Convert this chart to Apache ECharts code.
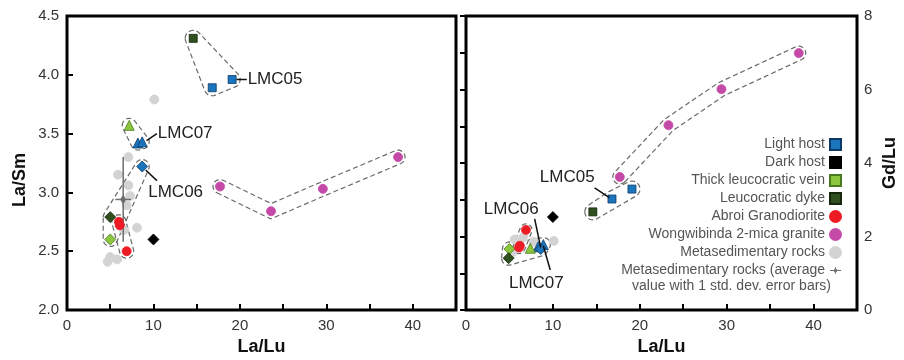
<!DOCTYPE html>
<html>
<head>
<meta charset="utf-8">
<script src="https://cdn.jsdelivr.net/npm/echarts@6/dist/echarts.min.js"></script>
<style>
html, body { margin: 0; padding: 0; background: #fff; }
#chart { width: 904px; height: 360px; }
</style>
</head>
<body>
<div id="chart"></div>
<script>
// left panel: [La/Lu, La/Sm]
const lightHostSqL = [[16.8, 3.89], [19.1, 3.96]]
const lightHostTriL = [[8.2, 3.42], [8.7, 3.43]]
const lightHostDiaL = [[8.7, 3.22]]
const darkHostL = [[10.0, 2.60]]
const veinTriL = [[7.2, 3.57]]
const veinDiaL = [[5.0, 2.60]]
const dykeSqL = [[14.6, 4.31]]
const dykeDiaL = [[5.0, 2.79]]
const abroiL = [[6.0, 2.75], [6.1, 2.72], [6.9, 2.50]]
const wongL = [[17.7, 3.05], [23.6, 2.84], [29.6, 3.03], [38.3, 3.30]]
const metaL = [[10.1, 3.79], [7.1, 3.30], [5.9, 3.15], [7.1, 3.06], [6.9, 2.89], [8.1, 2.70],
  [6.6, 2.68], [5.0, 2.45], [5.8, 2.43], [4.7, 2.41], [7.3, 2.97]]
const metaAvgL = [[6.5, 2.94, 0.9, 0.36]] // x, y, x error, y error

// right panel: [La/Lu, Gd/Lu]
const lightHostSqR = [[16.8, 3.02], [19.1, 3.29]]
const lightHostTriR = [[8.3, 1.72], [8.9, 1.78]]
const lightHostDiaR = [[8.6, 1.66]]
const darkHostR = [[10.0, 2.53]]
const veinTriR = [[7.4, 1.68]]
const veinDiaR = [[5.0, 1.66]]
const dykeSqR = [[14.6, 2.67]]
const dykeDiaR = [[4.9, 1.41]]
const abroiR = [[6.9, 2.18], [6.2, 1.75], [6.1, 1.70]]
const wongR = [[17.7, 3.62], [23.3, 5.03], [29.4, 6.01], [38.3, 6.99]]
const metaR = [[10.1, 1.88], [5.6, 1.92], [6.6, 1.98], [7.8, 1.86], [5.3, 1.55]]

const names = ['Light host', 'Dark host', 'Thick leucocratic vein', 'Leucocratic dyke',
  'Abroi Granodiorite', 'Wongwibinda 2-mica granite', 'Metasedimentary rocks',
  'Metasedimentary rocks (average']
const avgNote = 'value with 1 std. dev. error bars)'

const FONT = 'Liberation Sans'
const col = {
  blue: '#1b75bc', black: '#000', lgreen: '#8cc63f', dgreen: '#2f4f1f',
  red: '#ed1c24', pink: '#c54aa8', grey: '#d3d3d3', avg: '#6d6d6d'
}

// envelope shapes (pixel space)
function hull (p) {
  p = p.slice().sort((a, b) => a[0] - b[0] || a[1] - b[1])
  const cross = (o, a, b) => (a[0] - o[0]) * (b[1] - o[1]) - (a[1] - o[1]) * (b[0] - o[0])
  const lo = []; const up = []
  for (const q of p) {
    while (lo.length >= 2 && cross(lo[lo.length - 2], lo[lo.length - 1], q) <= 0) lo.pop()
    lo.push(q)
  }
  for (let i = p.length - 1; i >= 0; i--) {
    const q = p[i]
    while (up.length >= 2 && cross(up[up.length - 2], up[up.length - 1], q) <= 0) up.pop()
    up.push(q)
  }
  up.pop(); lo.pop()
  return lo.concat(up)
}
function blob (pp, r) {
  const all = []
  pp.forEach(c => {
    for (let k = 0; k < 32; k++) {
      const a = k * Math.PI * 2 / 32
      all.push([c[0] + r * Math.cos(a), c[1] + r * Math.sin(a)])
    }
  })
  return hull(all)
}
function band (pp, r) {
  const n = pp.length
  const nor = []
  for (let i = 0; i < n - 1; i++) {
    const dx = pp[i + 1][0] - pp[i][0]; const dy = pp[i + 1][1] - pp[i][1]
    const l = Math.hypot(dx, dy)
    nor.push([-dy / l, dx / l])
  }
  const side = s => pp.map((p, i) => {
    let m
    if (i === 0) m = nor[0]
    else if (i === n - 1) m = nor[n - 2]
    else {
      const a = nor[i - 1]; const b = nor[i]
      const d = 1 + a[0] * b[0] + a[1] * b[1]
      m = [(a[0] + b[0]) / d, (a[1] + b[1]) / d]
    }
    return [p[0] + s * r * m[0], p[1] + s * r * m[1]]
  })
  const cap = (c, nv) => {
    const out = []
    const a0 = Math.atan2(nv[1], nv[0])
    for (let k = 1; k < 12; k++) {
      const a = a0 - k * Math.PI / 12
      out.push([c[0] + r * Math.cos(a), c[1] + r * Math.sin(a)])
    }
    return out
  }
  const L = side(1); const R = side(-1)
  const nl = nor[n - 2]; const n0 = nor[0]
  return L.concat(cap(pp[n - 1], nl), R.reverse(), cap(pp[0], [-n0[0], -n0[1]]))
}

const envL = [
  { pts: [...dykeSqL, ...lightHostSqL], r: 8 },
  { pts: [...veinTriL, ...lightHostTriL], r: 7 },
  { pts: [...lightHostDiaL, ...dykeDiaL, ...veinDiaL], r: 7 },
  { pts: abroiL, r: 7 },
  { pts: wongL, r: 7, band: true }
]
const envR = [
  { pts: [...dykeSqR, ...lightHostSqR], r: 8 },
  { pts: wongR, r: 7, band: true },
  { pts: [...veinTriR, ...lightHostTriR, ...lightHostDiaR, ...veinDiaR, ...dykeDiaR], r: 7 },
  { pts: abroiR, r: 6 }
]

const envelopeSeries = (env, gi) => ({
  type: 'custom',
  xAxisIndex: gi,
  yAxisIndex: gi,
  silent: true,
  z: 1,
  data: env.map((e, i) => [e.pts[0][0], e.pts[0][1], i]),
  renderItem: (params, api) => {
    const e = env[api.value(2)]
    const px = e.pts.map(p => api.coord(p))
    const poly = e.band ? band(px, e.r) : blob(px, e.r)
    return {
      type: 'polygon',
      shape: { points: poly },
      style: { fill: 'none', stroke: '#6a6a6a', lineWidth: 1.2, lineDash: [5, 3] }
    }
  }
})

// labels with leader lines (text position and leader ends in data units)
const labL = [
  { text: 'LMC05', at: [20.9, 3.96], align: 'left', line: [[19.6, 3.96], [20.8, 3.96]] },
  { text: 'LMC07', at: [10.5, 3.50], align: 'left', line: [[9.2, 3.44], [10.4, 3.50]] },
  { text: 'LMC06', at: [9.4, 3.00], align: 'left', line: [[9.1, 3.19], [10.4, 3.10]] }
]
const labR = [
  { text: 'LMC05', at: [14.8, 3.62], align: 'right', line: [[14.8, 3.32], [16.5, 3.06]] },
  { text: 'LMC06', at: [5.2, 2.75], align: 'center', line: [[7.9, 2.48], [8.6, 1.70]] },
  { text: 'LMC07', at: [8.1, 0.72], align: 'center', line: [[8.9, 1.74], [9.7, 1.09]] }
]
const labelSeries = (labs, gi) => ({
  type: 'custom',
  xAxisIndex: gi,
  yAxisIndex: gi,
  silent: true,
  z: 20,
  data: labs.map((l, i) => [l.at[0], l.at[1], i]),
  renderItem: (params, api) => {
    const l = labs[api.value(2)]
    const a = api.coord(l.line[0]); const b = api.coord(l.line[1])
    const t = api.coord(l.at)
    return {
      type: 'group',
      children: [
        { type: 'line', shape: { x1: a[0], y1: a[1], x2: b[0], y2: b[1] }, style: { stroke: '#111', lineWidth: 1.5 } },
        { type: 'text', x: t[0], y: t[1], style: { text: l.text, fill: '#222', font: '17px "' + FONT + '"', align: l.align, verticalAlign: 'middle' } }
      ]
    }
  }
})

const avgSeries = (data, gi) => ({
  name: names[7],
  type: 'custom',
  xAxisIndex: gi,
  yAxisIndex: gi,
  z: 4,
  itemStyle: { color: col.avg },
  data: data,
  renderItem: (params, api) => {
    const x = api.value(0); const y = api.value(1); const ex = api.value(2); const ey = api.value(3)
    const c = api.coord([x, y])
    const l = api.coord([x - ex, y]); const r = api.coord([x + ex, y])
    const t = api.coord([x, y + ey]); const b = api.coord([x, y - ey])
    const st = { stroke: col.avg, lineWidth: 1.5 }
    return {
      type: 'group',
      children: [
        { type: 'line', shape: { x1: l[0], y1: l[1], x2: r[0], y2: r[1] }, style: st },
        { type: 'line', shape: { x1: t[0], y1: t[1], x2: b[0], y2: b[1] }, style: st },
        { type: 'polygon', shape: { points: [[c[0], c[1] - 5], [c[0] + 3, c[1]], [c[0], c[1] + 5], [c[0] - 3, c[1]]] }, style: { fill: col.avg } }
      ]
    }
  }
})

const pts = (name, data, symbol, color, border, gi, size) => ({
  name: name,
  type: 'scatter',
  xAxisIndex: gi,
  yAxisIndex: gi,
  symbol: symbol,
  symbolSize: size,
  z: name === names[6] ? 3 : 5,
  itemStyle: { color: color, borderColor: border, borderWidth: 0.8, opacity: 1 },
  data: data
})

const panelSeries = (d, gi) => [
  pts(names[6], d.meta, 'circle', col.grey, col.grey, gi, 9),
  pts(names[0], d.lhSq, 'rect', col.blue, '#0c3a66', gi, 8),
  pts(names[0], d.lhTri, 'triangle', col.blue, '#0c3a66', gi, 10),
  pts(names[0], d.lhDia, 'diamond', col.blue, '#0c3a66', gi, 11),
  pts(names[1], d.dh, 'diamond', col.black, '#000', gi, 11),
  pts(names[2], d.vTri, 'triangle', col.lgreen, '#4a7a1e', gi, 10),
  pts(names[2], d.vDia, 'diamond', col.lgreen, '#4a7a1e', gi, 11),
  pts(names[3], d.dSq, 'rect', col.dgreen, '#16270d', gi, 8),
  pts(names[3], d.dDia, 'diamond', col.dgreen, '#16270d', gi, 11),
  pts(names[4], d.ab, 'circle', col.red, col.red, gi, 9),
  pts(names[5], d.wg, 'circle', col.pink, col.pink, gi, 9)
]

const tickStyle = { show: true, inside: true, length: 6, lineStyle: { color: '#000', width: 2 } }
const labelStyle = { color: '#333', fontSize: 15, fontFamily: FONT }
const nameStyle = { color: '#111', fontSize: 18, fontWeight: 'bold', fontFamily: FONT }

const xAxis = gi => ({
  gridIndex: gi,
  type: 'value',
  min: 0,
  max: 45,
  interval: 5,
  name: 'La/Lu',
  nameLocation: 'middle',
  nameGap: 28,
  nameTextStyle: nameStyle,
  axisLine: { show: false },
  axisTick: tickStyle,
  splitLine: { show: false },
  axisLabel: Object.assign({ margin: 8, formatter: v => (v % 10 === 0 ? String(v) : '') }, labelStyle)
})

const chart = echarts.init(document.getElementById('chart'))
chart.setOption({
  animation: false,
  backgroundColor: '#fff',
  textStyle: { fontFamily: FONT },
  grid: [
    { left: 67, top: 16, width: 389, height: 294, outerBoundsMode: 'none', containLabel: false, show: true, borderColor: '#000', borderWidth: 3, backgroundColor: 'transparent' },
    { left: 466, top: 16, width: 391, height: 294, outerBoundsMode: 'none', containLabel: false, show: true, borderColor: '#000', borderWidth: 3, backgroundColor: 'transparent' }
  ],
  xAxis: [xAxis(0), xAxis(1)],
  yAxis: [
    {
      gridIndex: 0, type: 'value', min: 2, max: 4.5, interval: 0.5,
      name: 'La/Sm', nameLocation: 'middle', nameGap: 38,
      nameTextStyle: Object.assign({ padding: [0, 34, 0, 0] }, nameStyle),
      axisLine: { show: false }, axisTick: tickStyle, splitLine: { show: false },
      axisLabel: Object.assign({ margin: 8, formatter: v => v.toFixed(1) }, labelStyle)
    },
    {
      gridIndex: 1, type: 'value', position: 'right', min: 0, max: 8, interval: 1,
      axisLine: { show: false }, axisTick: tickStyle, splitLine: { show: false },
      axisLabel: Object.assign({ margin: 7, formatter: v => (v % 2 === 0 ? String(v) : '') }, labelStyle)
    }
  ],
  legend: {
    orient: 'vertical',
    right: 57,
    top: 131,
    align: 'right',
    itemWidth: 11,
    itemHeight: 11,
    itemGap: 1,
    selectedMode: false,
    textStyle: { fontSize: 14, color: '#555', fontFamily: FONT, lineHeight: 17 },
    data: [
      { name: names[0], icon: 'rect' },
      { name: names[1], icon: 'rect' },
      { name: names[2], icon: 'rect' },
      { name: names[3], icon: 'rect' },
      { name: names[4], icon: 'circle' },
      { name: names[5], icon: 'circle' },
      { name: names[6], icon: 'circle' },
      { name: names[7], icon: 'path://M0,4.3H5.3L8,1.5L10.7,4.3H16V5.7H10.7L8,8.5L5.3,5.7H0Z M7.4,0H8.6V10H7.4Z' }
    ]
  },
  graphic: [
    {
      type: 'text',
      right: 73,
      top: 279,
      style: { text: avgNote, fill: '#555', font: '14px "' + FONT + '"' }
    },
    {
      type: 'text',
      x: 890,
      y: 163,
      rotation: Math.PI / 2,
      style: { text: 'Gd/Lu', fill: '#111', font: 'bold 18px "' + FONT + '"', align: 'center', verticalAlign: 'middle' }
    }
  ],
  series: [
    envelopeSeries(envL, 0),
    envelopeSeries(envR, 1),
    avgSeries(metaAvgL, 0),
    ...panelSeries({ meta: metaL, lhSq: lightHostSqL, lhTri: lightHostTriL, lhDia: lightHostDiaL, dh: darkHostL,
      vTri: veinTriL, vDia: veinDiaL, dSq: dykeSqL, dDia: dykeDiaL, ab: abroiL, wg: wongL }, 0),
    ...panelSeries({ meta: metaR, lhSq: lightHostSqR, lhTri: lightHostTriR, lhDia: lightHostDiaR, dh: darkHostR,
      vTri: veinTriR, vDia: veinDiaR, dSq: dykeSqR, dDia: dykeDiaR, ab: abroiR, wg: wongR }, 1),
    labelSeries(labL, 0),
    labelSeries(labR, 1)
  ]
})
</script>
</body>
</html>
